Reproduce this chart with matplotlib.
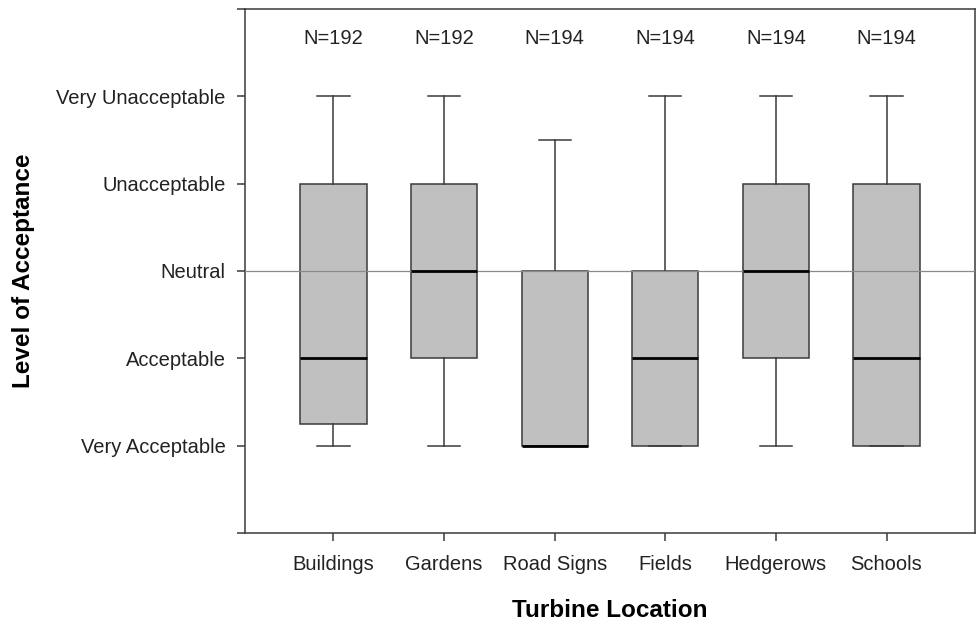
import matplotlib
matplotlib.use("Agg")
import matplotlib.pyplot as plt

categories = ["Buildings", "Gardens", "Road Signs", "Fields", "Hedgerows", "Schools"]
n_labels = ["N=192", "N=192", "N=194", "N=194", "N=194", "N=194"]
whisker_low = [1, 1, 1, 1, 1, 1]
q1 = [1.25, 2, 1, 1, 2, 1]
median = [2, 3, 1, 2, 3, 2]
q3 = [4, 4, 3, 3, 4, 4]
whisker_high = [5, 5, 4.5, 5, 5, 5]
y_tick_labels = ["", "Very Acceptable", "Acceptable", "Neutral", "Unacceptable", "Very Unacceptable", ""]

plt.rcParams["font.family"] = ["Liberation Sans", "DejaVu Sans"]

fig = plt.figure(figsize=(9.79, 6.22), dpi=100)
ax = fig.add_axes([245 / 979, 1 - 533 / 622, (975 - 245) / 979, (533 - 9) / 622])

stats = []
for lab, lo, a, m, b, hi in zip(categories, whisker_low, q1, median, q3, whisker_high):
    stats.append(dict(label=lab, whislo=lo, q1=a, med=m, q3=b, whishi=hi, fliers=[]))

edge = "#3a3a3a"
ax.bxp(stats, positions=range(1, len(categories) + 1), widths=0.6, patch_artist=True,
       showfliers=False,
       boxprops=dict(facecolor="#c0c0c0", edgecolor=edge, linewidth=1.1),
       medianprops=dict(color="black", linewidth=2.0, zorder=4),
       whiskerprops=dict(color=edge, linewidth=1.1),
       capprops=dict(color=edge, linewidth=1.1),
       capwidths=0.29)

ax.axhline(3, color="#8a8a8a", linewidth=0.9, zorder=3)

for i, t in enumerate(n_labels):
    ax.text(i + 1, 5.66, t, ha="center", va="center", fontsize=14.5, color="#222222")

ax.set_xlim(0.2, 6.8)
ax.set_ylim(0, 6)
ax.set_yticks(range(7))
ax.set_yticklabels(y_tick_labels)
ax.set_xticks(range(1, len(categories) + 1))
ax.set_xticklabels(categories)

for s in ax.spines.values():
    s.set_color(edge)
    s.set_linewidth(1.1)

ax.tick_params(axis="both", direction="out", length=6, width=1.1, color=edge,
               labelsize=14.5, labelcolor="#222222")
ax.tick_params(axis="y", pad=8)
ax.tick_params(axis="x", pad=10)

ax.set_xlabel("Turbine Location", fontsize=17.5, fontweight="bold", labelpad=18)
ax.set_ylabel("Level of Acceptance", fontsize=17.5, fontweight="bold", labelpad=15)

fig.savefig("out.png", dpi=100)
